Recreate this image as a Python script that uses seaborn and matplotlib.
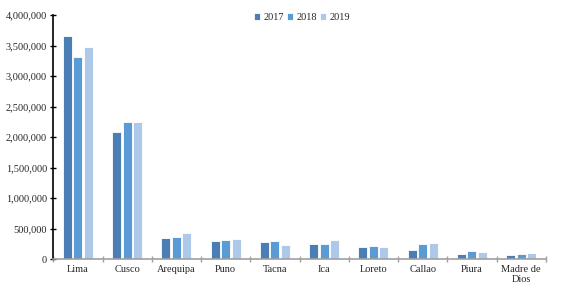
import numpy as np
import pandas as pd
import matplotlib.pyplot as plt
import seaborn as sns
from matplotlib.ticker import FuncFormatter, FixedLocator

regiones = ['Lima', 'Cusco', 'Arequipa', 'Puno', 'Tacna', 'Ica', 'Loreto',
            'Callao', 'Piura', 'Madre de\nDios']
anios = ['2017', '2018', '2019']
v2017 = [3650000, 2080000, 340000, 305000, 275000, 255000, 200000, 150000, 85000, 74000]
v2018 = [3310000, 2250000, 370000, 320000, 300000, 245000, 210000, 250000, 130000, 85000]
v2019 = [3470000, 2250000, 430000, 330000, 240000, 310000, 205000, 265000, 125000, 95000]

colores = ['#4a7eb4', '#5b9bd5', '#adc8e8']

df = pd.DataFrame({
    'region': regiones * 3,
    'anio': [a for a in anios for _ in regiones],
    'valor': v2017 + v2018 + v2019,
})

sns.set_style('white')
plt.rcParams['font.family'] = ['Liberation Serif', 'DejaVu Serif']

fig = plt.figure(figsize=(5.61, 2.88), dpi=100)
ax = fig.add_axes([0.095, 0.10, 0.878, 0.848])

sns.barplot(data=df, x='region', y='valor', hue='anio', palette=colores,
            saturation=1, width=0.64, gap=0.14, edgecolor='white',
            linewidth=0.6, ax=ax)

ax.set_ylim(0, 4000000)
ax.set_xlim(-0.5, len(regiones) - 0.5)
ax.set_yticks(np.arange(0, 4000001, 500000))
ax.yaxis.set_major_formatter(FuncFormatter(lambda v, p: f'{int(v):,}'))
ax.tick_params(axis='y', direction='inout', length=5, width=1, labelsize=7.5,
               color='black', left=True, pad=2)
ax.tick_params(axis='x', which='major', length=0, labelsize=7.5, pad=4)
ax.xaxis.set_minor_locator(FixedLocator(np.arange(-0.5, len(regiones), 1)))
ax.tick_params(axis='x', which='minor', direction='inout', length=5,
               color='#a0a0a0', width=1, bottom=True)
ax.set_xlabel('')
ax.set_ylabel('')

for s in ['top', 'right']:
    ax.spines[s].set_visible(False)
ax.spines['left'].set_color('black')
ax.spines['left'].set_linewidth(1.2)
ax.spines['bottom'].set_color('#a0a0a0')
ax.spines['bottom'].set_linewidth(1.2)

leg = ax.legend(loc='upper center', bbox_to_anchor=(0.505, 1.045), ncol=3,
                frameon=False, fontsize=7.5, handlelength=0.6,
                handleheight=0.6, handletextpad=0.3, columnspacing=0.3)

fig.savefig('out.png', dpi=100)
